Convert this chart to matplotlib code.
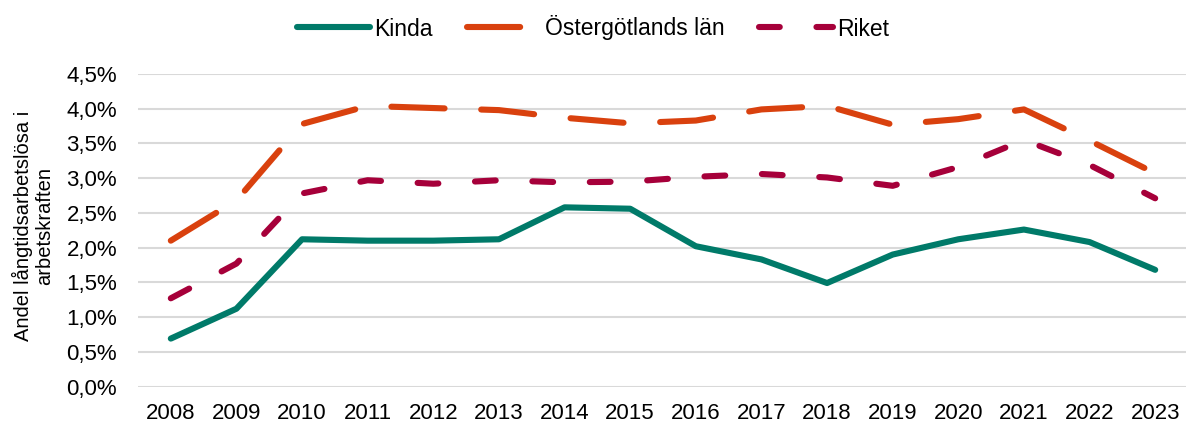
import matplotlib
matplotlib.use("Agg")
import matplotlib.pyplot as plt
import numpy as np

plt.rcParams['font.family'] = ['Liberation Sans', 'DejaVu Sans']

years = ['2008', '2009', '2010', '2011', '2012', '2013', '2014', '2015',
         '2016', '2017', '2018', '2019', '2020', '2021', '2022', '2023']
kinda = [0.69, 1.12, 2.12, 2.10, 2.10, 2.12, 2.58, 2.56, 2.02, 1.83, 1.49, 1.90, 2.12, 2.26, 2.08, 1.68]
ostergotland = [2.10, 2.68, 3.78, 4.04, 4.01, 3.98, 3.87, 3.79, 3.83, 3.99, 4.04, 3.77, 3.85, 3.99, 3.54, 3.07]
riket = [1.27, 1.77, 2.78, 2.97, 2.92, 2.97, 2.94, 2.95, 3.02, 3.06, 3.01, 2.89, 3.16, 3.55, 3.19, 2.71]
yticks = [0.0, 0.5, 1.0, 1.5, 2.0, 2.5, 3.0, 3.5, 4.0, 4.5]
ytick_labels = ['0,0%', '0,5%', '1,0%', '1,5%', '2,0%', '2,5%', '3,0%', '3,5%', '4,0%', '4,5%']
series_names = ['Kinda', 'Östergötlands län', 'Riket']
ylabel = 'Andel långtidsarbetslösa i\narbetskraften'

c_kinda = '#007A69'
c_ost = '#D9410E'
c_riket = '#A6003A'

fig = plt.figure(figsize=(11.86, 4.26), dpi=100)
ax = fig.add_axes([138 / 1186, 39.5 / 426, 1050 / 1186, 312.5 / 426])

x = np.arange(len(years))
lw = 4.4
ax.plot(x, kinda, color=c_kinda, lw=lw, solid_capstyle='round', solid_joinstyle='round', label=series_names[0], zorder=3)
ax.plot(x, ostergotland, color=c_ost, lw=lw, linestyle=(0, (8.7, 6)), dash_capstyle='round',
        dash_joinstyle='round', label=series_names[1], zorder=3)
ax.plot(x, riket, color=c_riket, lw=lw, linestyle=(0, (3.4, 6)), dash_capstyle='round',
        dash_joinstyle='round', label=series_names[2], zorder=3)

ax.set_xlim(-0.5, len(years) - 0.5)
ax.set_ylim(0, 4.5)
ax.set_xticks(x)
ax.set_xticklabels(years)
ax.set_yticks(yticks)
ax.set_yticklabels(ytick_labels)
ax.tick_params(axis='both', length=0, labelsize=16, colors='black')
ax.tick_params(axis='y', pad=15)
ax.tick_params(axis='x', pad=12)
ax.grid(axis='y', color='#D9D9D9', lw=1.5)
ax.set_axisbelow(True)
for s in ax.spines.values():
    s.set_visible(False)

fig.text(33 / 1186, 1 - 226 / 426, ylabel, rotation=90, ha='center', va='center',
         multialignment='center', fontsize=14.5, linespacing=1.1)

fig.legend(loc='center', bbox_to_anchor=(0.5, 1 - 28 / 426), ncol=3, frameon=False,
           fontsize=16.5, handlelength=3.2, handletextpad=0.2, columnspacing=1.5)

fig.savefig('out.png', dpi=100)
